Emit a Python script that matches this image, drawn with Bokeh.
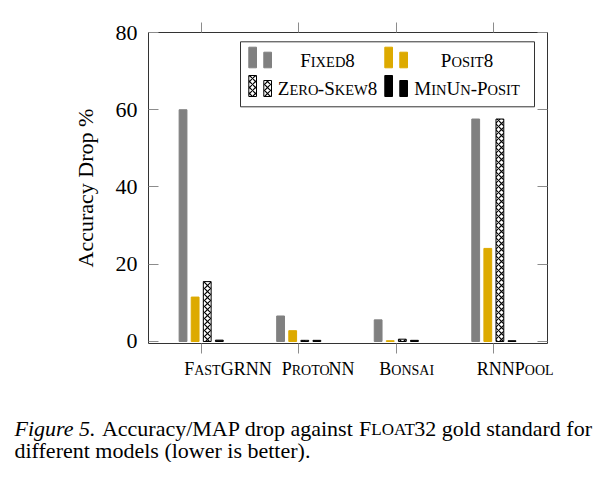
import numpy as np
from bokeh.plotting import figure
from bokeh.layouts import column
from bokeh.models import Range1d, FixedTicker, LinearAxis, Label
from bokeh.embed import file_html
from bokeh.resources import INLINE

# ---------------- data ----------------
models = ["FastGRNN", "ProtoNN", "Bonsai", "RNNPool"]
series = ["Fixed8", "Posit8", "Zero-Skew8", "MinUn-Posit"]
fixed8 = [60.0, 6.6, 5.6, 57.6]
posit8 = [11.5, 2.8, 0.2, 24.1]
zero_skew8 = [15.5, 0.3, 0.6, 57.6]
minun_posit = [0.35, 0.3, 0.3, 0.2]
y_ticks = [0, 20, 40, 60, 80]
y_label = "Accuracy Drop %"
caption_1 = [("Figure 5.", "italic"), (" Accuracy/MAP drop against ", "normal"),
             ("Float", "sc"), ("32 gold standard for", "normal")]
caption_2 = "different models (lower is better)."

# ---------------- layout ----------------
W = 600
H1, H2 = 356, 106                          # chart figure + text strip below it
FL, FR, FT, FB = 148, 547, 32, 343          # frame edges in canvas pixels
x0, x1 = -0.54, 3.55
y0, y1 = -0.52, 80.0
ppx = (FR - FL) / (x1 - x0)
ppy = (FB - FT) / (y1 - y0)
BASE_FIX = 0.34                              # label anchor correction (em)


def X(px):
    return x0 + (px - FL) / ppx


def Y(py):
    return y1 - (py - FT) / ppy


FONT = "Liberation Serif"
GRAY = "#808080"
GOLD = "#DDAA00"
TICK = "#8c8c8c"

# Times / Liberation Serif advance widths (per 1000 em)
WID = dict(zip("abcdefghijklmnopqrstuvwxyz",
               [444, 500, 444, 500, 444, 333, 500, 500, 278, 278, 500, 278, 778,
                500, 500, 500, 500, 333, 389, 278, 500, 500, 722, 500, 500, 444]))
WID.update(zip("ABCDEFGHIJKLMNOPQRSTUVWXYZ",
               [722, 667, 667, 722, 611, 556, 722, 722, 333, 389, 722, 611, 889,
                722, 722, 556, 722, 667, 556, 611, 722, 722, 944, 722, 722, 611]))
WID.update({c: 500 for c in "0123456789"})
WID.update({" ": 250, ".": 250, ",": 250, "-": 333, "/": 278, "(": 333, ")": 333, "%": 833})
WID_IT = dict(WID)
WID_IT.update({"F": 611, "r": 389})
KERN = {"AT": -111, "OA": -35, "RO": -40, "OT": -40, "TO": -18}


def text_w(t, size, italic=False):
    tbl = WID_IT if italic else WID
    w = sum(tbl.get(c, 500) for c in t)
    if not italic:
        w += sum(KERN.get(t[i:i + 2], 0) for i in range(len(t) - 1))
    return w * size / 1000.0


def sc_runs(s, big, small):
    runs = []
    for ch in s:
        if ch.islower():
            t, sz = ch.upper(), small
        else:
            t, sz = ch, big
        if runs and runs[-1][1] == sz and runs[-1][2] == "normal":
            runs[-1][0] += t
        else:
            runs.append([t, sz, "normal"])
    return runs


def runs_width(runs):
    return sum(text_w(t, sz, st == "italic") for t, sz, st in runs)


def draw_runs(fig, fx, fy, runs, x_px, base_px, align="left"):
    if align == "center":
        x_px = x_px - runs_width(runs) / 2.0
    for t, sz, st in runs:
        it = st == "italic"
        lead = len(t) - len(t.lstrip(" "))
        x_px += text_w(" " * lead, sz, it)
        body = t.strip(" ")
        if body:
            fig.add_layout(Label(x=fx(x_px), y=fy(base_px - BASE_FIX * sz), text=body,
                                 text_font=FONT, text_font_size=f"{sz}px",
                                 text_font_style=st, text_color="black",
                                 text_align="left", text_baseline="alphabetic"))
        x_px += text_w(t.lstrip(" "), sz, it)


# ---------------- chart figure ----------------
p = figure(width=W, height=H1, x_range=Range1d(x0, x1), y_range=Range1d(y0, y1),
           output_backend="svg", toolbar_location=None,
           min_border_left=FL, min_border_right=W - FR,
           min_border_top=FT, min_border_bottom=H1 - FB)
p.frame_align = False
p.xgrid.visible = False
p.ygrid.visible = False
p.outline_line_color = "#333333"
p.outline_line_width = 1
p.background_fill_color = "white"
p.border_fill_color = "white"

idx = np.arange(len(models))
xa = p.xaxis[0]
xa.ticker = FixedTicker(ticks=list(idx))
xa.major_label_text_font_size = "1px"
xa.major_label_text_color = None
xa.major_label_standoff = 0
xa.axis_line_color = None
xa.major_tick_out = 10
xa.major_tick_in = 0
xa.major_tick_line_color = TICK
xa.minor_tick_line_color = None

ya = p.yaxis[0]
ya.ticker = FixedTicker(ticks=y_ticks)
ya.axis_line_color = None
ya.major_tick_in = 10
ya.major_tick_out = 0
ya.major_tick_line_color = TICK
ya.minor_tick_line_color = None
ya.major_label_text_font = FONT
ya.major_label_text_font_size = "22px"
ya.major_label_text_color = "black"
ya.major_label_standoff = 11
ya.axis_label = y_label
ya.axis_label_text_font = FONT
ya.axis_label_text_font_size = "22px"
ya.axis_label_text_font_style = "normal"
ya.axis_label_text_color = "black"
ya.axis_label_standoff = 15

top_ax = LinearAxis(ticker=FixedTicker(ticks=list(idx)), major_tick_out=10, major_tick_in=0,
                    major_tick_line_color=TICK, minor_tick_line_color=None,
                    axis_line_color=None, major_label_text_font_size="1px",
                    major_label_text_color=None, major_label_standoff=0)
p.add_layout(top_ax, "above")
right_ax = LinearAxis(ticker=FixedTicker(ticks=y_ticks), major_tick_out=0, major_tick_in=10,
                      major_tick_line_color=TICK, minor_tick_line_color=None,
                      axis_line_color=None, major_label_text_font_size="1px",
                      major_label_text_color=None, major_label_standoff=0)
p.add_layout(right_ax, "right")

# ---------------- bars ----------------
offsets = [-0.186, -0.062, 0.062, 0.186]
bw = 0.08
styles = [
    dict(fill_color=GRAY, line_color=GRAY),
    dict(fill_color=GOLD, line_color=GOLD),
    dict(fill_color="white", line_color="black", hatch_pattern="diagonal_cross",
         hatch_color="black", hatch_scale=6, hatch_weight=1.2),
    dict(fill_color="black", line_color="black"),
]
values = [fixed8, posit8, zero_skew8, minun_posit]
for off, vals, st in zip(offsets, values, styles):
    p.vbar(x=idx + off, top=vals, bottom=0, width=bw, line_width=1, **st)

# ---------------- legend (drawn by hand) ----------------
p.quad(left=[X(240)], right=[X(534)], top=[Y(41.3)], bottom=[Y(106.3)],
       fill_color="white", line_color="#333333", line_width=1)
cols = [248.3, 384.3]
rows = [(46.7, 51.7, 67.3), (75.0, 80.0, 96.0)]
text_cx = [327, 466.5]
text_base = [66, 94.7]
L_BIG, L_SMALL = 19, 14.5
for k, name in enumerate(series):
    r, c = k // 2, k % 2
    st = styles[k]
    ta, tb, bot = rows[r]
    xl = cols[c]
    p.quad(left=[X(xl), X(xl + 15)], right=[X(xl + 7.7), X(xl + 22.7)],
           top=[Y(ta), Y(tb)], bottom=[Y(bot), Y(bot)], line_width=1, **st)
    draw_runs(p, X, Y, sc_runs(name, L_BIG, L_SMALL), text_cx[c], text_base[r], align="center")

# ---------------- text strip: category labels + caption ----------------
q = figure(width=W, height=H2, x_range=Range1d(0, W), y_range=Range1d(H2, 0),
           output_backend="svg", toolbar_location=None,
           x_axis_location=None, y_axis_location=None,
           min_border=0, min_border_left=0, min_border_right=0,
           min_border_top=0, min_border_bottom=0)
q.frame_align = False
q.xgrid.visible = False
q.ygrid.visible = False
q.outline_line_color = None
q.background_fill_color = "white"
q.border_fill_color = "white"


def QX(px):
    return px


def QY(py):
    return py - H1


for i, m in enumerate(models):
    tick_px = FL + (i - x0) * ppx
    draw_runs(q, QX, QY, sc_runs(m, 18, 14), tick_px - 17, 375)

runs1 = []
for t, kind in caption_1:
    if kind == "sc":
        runs1 += sc_runs(t, 22, 17)
    else:
        runs1.append([t, 22, kind])
draw_runs(q, QX, QY, runs1, 14, 435)
draw_runs(q, QX, QY, [[caption_2, 22, "normal"]], 14, 457)

layout = column(p, q, spacing=0)
open("out.html", "w").write(file_html(layout, INLINE))
